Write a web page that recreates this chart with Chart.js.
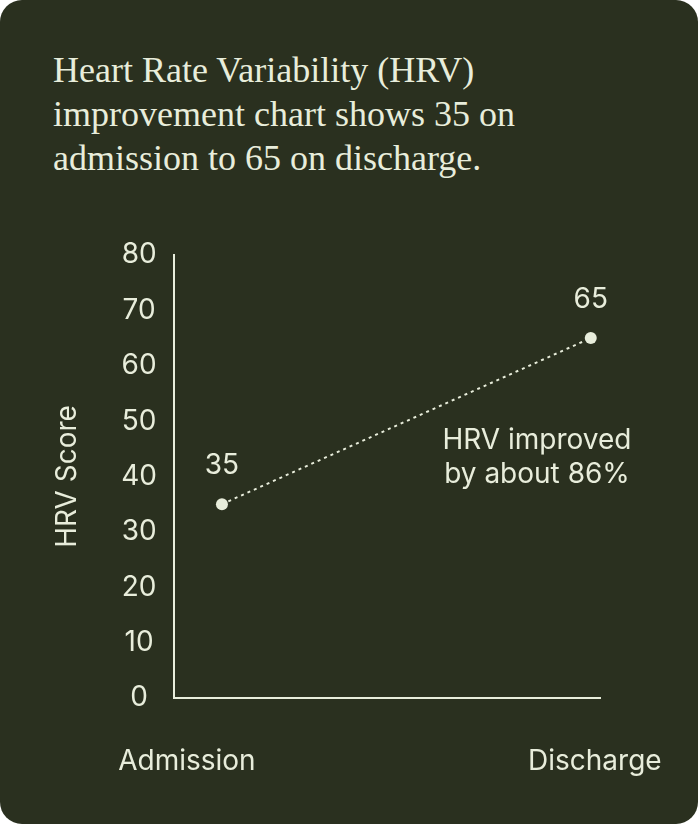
<!DOCTYPE html>
<html>
<head>
<meta charset="utf-8">
<script src="https://cdn.jsdelivr.net/npm/chart.js@4.4.1/dist/chart.umd.min.js"></script>
<style>
  html, body { margin: 0; padding: 0; background: #ffffff; }
  #card {
    position: relative;
    width: 698px;
    height: 824px;
    background: #2a301f;
    border-radius: 22px;
    overflow: hidden;
  }
  #title {
    position: absolute;
    left: 53px;
    top: 48px;
    width: 620px;
    font-family: 'Liberation Serif', serif;
    font-size: 36px;
    line-height: 44px;
    color: #e8eddb;
  }
  #hrvChart { position: absolute; left: 0; top: 0; }
</style>
</head>
<body>
<div id="card">
  <div id="title">Heart Rate Variability (HRV)<br>improvement chart shows 35 on<br>admission to 65 on discharge.</div>
  <canvas id="hrvChart" width="698" height="824"></canvas>
</div>
<script>
// data
const categories = ['Admission', 'Discharge'];
const hrvValues = [35, 65];
const yTickValues = [0, 10, 20, 30, 40, 50, 60, 70, 80];
const yAxisTitle = 'HRV Score';

const textColor = '#e8eddb';
const fontFamily = 'Inter, "Noto Sans", sans-serif';

// percent change, rounded like the note says
const improvement = Math.round((hrvValues[1] - hrvValues[0]) / hrvValues[0] * 100);

// draws the value above each point and the note on the right
const pointLabels = {
    id: 'pointLabels',
    afterDatasetsDraw(chart) {
        const ctx = chart.ctx;
        const meta = chart.getDatasetMeta(0);
        const area = chart.chartArea;
        ctx.save();
        ctx.fillStyle = textColor;
        ctx.font = '28px ' + fontFamily;
        ctx.textAlign = 'center';
        ctx.textBaseline = 'alphabetic';
        meta.data.forEach((pt, i) => {
            ctx.fillText(String(hrvValues[i]), pt.x, pt.y - 30);
        });
        const noteX = area.right - 63;
        ctx.fillText('HRV improved', noteX, area.top + 194);
        ctx.fillText('by about ' + improvement + '%', noteX, area.top + 228);
        ctx.restore();
    }
};

const ctx = document.getElementById('hrvChart').getContext('2d');
new Chart(ctx, {
    type: 'line',
    data: {
        datasets: [{
            data: hrvValues.map((v, i) => ({x: i, y: v})),
            borderColor: textColor,
            borderWidth: 2,
            borderDash: [3, 4],
            pointRadius: 6,
            pointBackgroundColor: textColor,
            pointBorderWidth: 0,
            fill: false
        }]
    },
    options: {
        responsive: false,
        animation: false,
        layout: {
            padding: {top: 255, right: 98, left: 0, bottom: 0}
        },
        plugins: {
            legend: {display: false},
            tooltip: {enabled: false}
        },
        scales: {
            x: {
                type: 'linear',
                min: -0.13,
                max: 1.025,
                grid: {display: false, drawTicks: false},
                border: {display: true, color: textColor, width: 2},
                afterBuildTicks: (scale) => {
                    // category labels sit near the ends of the axis
                    scale.ticks = [{value: -0.095}, {value: 1.011}];
                },
                afterFit: (scale) => {
                    scale.height = 126;
                    scale.paddingLeft = 0;
                    scale.paddingRight = 0;
                },
                ticks: {
                    color: textColor,
                    font: {family: fontFamily, size: 28},
                    padding: 47,
                    maxRotation: 0,
                    autoSkip: false,
                    callback: (value, index) => categories[index]
                }
            },
            y: {
                min: 0,
                max: 80,
                grid: {display: false, drawTicks: false},
                border: {display: true, color: textColor, width: 2},
                afterBuildTicks: (scale) => {
                    scale.ticks = yTickValues.map(v => ({value: v}));
                },
                afterFit: (scale) => {
                    scale.width = 174;
                    scale.paddingTop = 0;
                    scale.paddingBottom = 0;
                },
                ticks: {
                    color: textColor,
                    font: {family: fontFamily, size: 28},
                    padding: 17,
                    crossAlign: 'center'
                },
                title: {
                    display: true,
                    text: yAxisTitle,
                    color: textColor,
                    font: {family: fontFamily, size: 28},
                    padding: {top: 51, bottom: 0}
                }
            }
        }
    },
    plugins: [pointLabels]
});
</script>
</body>
</html>
